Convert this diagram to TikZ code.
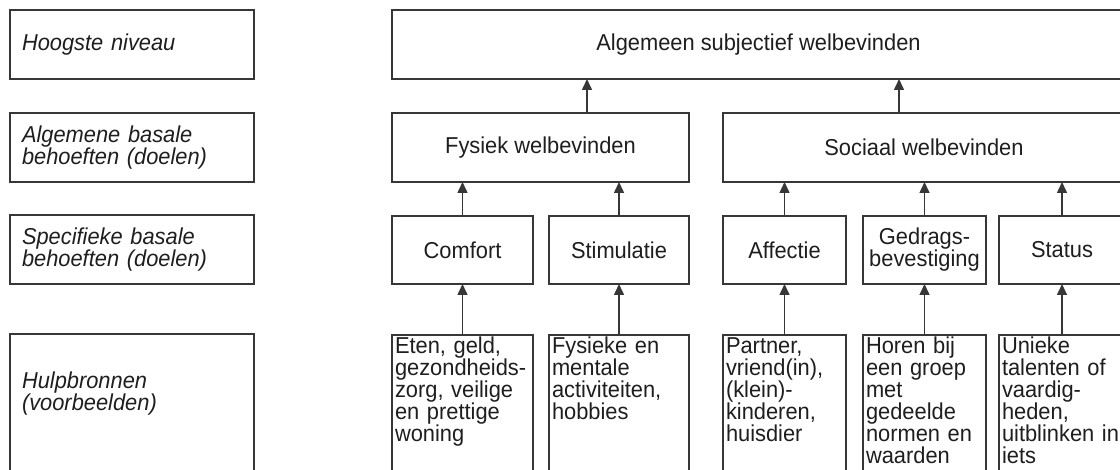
\documentclass[tikz,border=0pt]{standalone}
\usepackage{fontspec}
\setmainfont{Liberation Sans}[FakeStretch=0.95]
\usepackage{tikz}
\usetikzlibrary{arrows.meta, positioning}
\definecolor{linegray}{RGB}{55, 55, 55}
\definecolor{textgray}{RGB}{30, 30, 30}
\newcommand{\diagfont}{\fontsize{23pt}{22pt}\selectfont}

\begin{document}
\begin{tikzpicture}[
			x=1pt, y=1pt,
			every node/.style={text=textgray, outer sep=0pt},
			levelbox/.style={rectangle, draw=linegray, line width=1.5pt, text width=220pt, inner xsep=12pt, minimum height=69pt, align=left, font=\diagfont\itshape},
			goalbox/.style={rectangle, draw=linegray, line width=1.5pt, minimum height=69pt, align=center, inner sep=2pt, font=\diagfont},
			sourcebox/.style={rectangle, draw=linegray, line width=1.5pt, align=left, inner xsep=3pt, inner ysep=0pt, text height=19pt, text depth=130pt, font=\diagfont},
			arrow/.style={-{Triangle[length=11pt, width=10pt]}, draw=linegray, line width=1.5pt}
		]
		\useasboundingbox (0,0) rectangle (1120,-470);
		\clip (0,0) rectangle (1120,-470);
		
		% Left column: levels
		\node[levelbox, anchor=north west] (lvl-top) at (10,-10) {Hoogste niveau};
		\node[levelbox, below=34pt of lvl-top] (lvl-basic) {Algemene basale\\behoeften (doelen)};
		\node[levelbox, below=33pt of lvl-basic] (lvl-specific) {Specifieke basale\\behoeften (doelen)};
		\node[levelbox, below=50pt of lvl-specific, inner ysep=0pt, text height=55pt, text depth=140pt] (lvl-source) {Hulpbronnen\\(voorbeelden)};
		
		% Top and general needs
		\node[goalbox, minimum width=733pt, anchor=north west] (top-goal) at (392,-10) {Algemeen subjectief welbevinden};
		\node[goalbox, minimum width=297pt, below=34pt of top-goal.south west, anchor=north west] (fysiek) {Fysiek welbevinden};
		\node[goalbox, minimum width=402pt, right=34pt of fysiek] (sociaal) {Sociaal welbevinden};
		
		% Specific needs
		\node[goalbox, minimum width=141pt, minimum height=68pt, below=34pt of fysiek.south west, anchor=north west] (comfort) {Comfort};
		\node[goalbox, minimum width=140pt, minimum height=68pt, right=16pt of comfort] (stimulatie) {Stimulatie};
		\node[goalbox, minimum width=123pt, minimum height=68pt, below=34pt of sociaal.south west, anchor=north west] (affectie) {Affectie};
		\node[goalbox, minimum width=123pt, minimum height=68pt, right=17pt of affectie] (gedrag) {Gedrags-\\bevestiging};
		\node[goalbox, minimum width=126pt, minimum height=68pt, right=13pt of gedrag] (status) {Status};
		
		% Resources
		\node[sourcebox, text width=135pt, below=51pt of comfort.south west, anchor=north west] (src-comfort) {Eten, geld,\\gezondheids-\\zorg, veilige\\en prettige\\woning};
		\node[sourcebox, text width=134pt, below=51pt of stimulatie.south west, anchor=north west] (src-stimulatie) {Fysieke en\\mentale\\activiteiten,\\hobbies};
		\node[sourcebox, text width=117pt, below=51pt of affectie.south west, anchor=north west] (src-affectie) {Partner,\\vriend(in),\\(klein)-\\kinderen,\\huisdier};
		\node[sourcebox, text width=117pt, below=51pt of gedrag.south west, anchor=north west] (src-gedrag) {Horen bij\\een groep\\met\\gedeelde\\normen en\\waarden};
		\node[sourcebox, text width=120pt, below=51pt of status.south west, anchor=north west] (src-status) {Unieke\\talenten of\\vaardig-\\heden,\\uitblinken in\\iets};
		
		\draw[arrow] ([xshift=46.5pt]fysiek.north) -- ([xshift=46.5pt]fysiek.north |- top-goal.south);
		\draw[arrow] ([xshift=-25pt]sociaal.north) -- ([xshift=-25pt]sociaal.north |- top-goal.south);
		\draw[arrow] (comfort.north) -- (comfort.north |- fysiek.south);
		\draw[arrow] (stimulatie.north) -- (stimulatie.north |- fysiek.south);
		\draw[arrow] (affectie.north) -- (affectie.north |- sociaal.south);
		\draw[arrow] (gedrag.north) -- (gedrag.north |- sociaal.south);
		\draw[arrow] (status.north) -- (status.north |- sociaal.south);
		\draw[arrow] (src-comfort.north) -- (comfort.south);
		\draw[arrow] (src-stimulatie.north) -- (stimulatie.south);
		\draw[arrow] (src-affectie.north) -- (affectie.south);
		\draw[arrow] (src-gedrag.north) -- (gedrag.south);
		\draw[arrow] (src-status.north) -- (status.south);
\end{tikzpicture}
\end{document}
